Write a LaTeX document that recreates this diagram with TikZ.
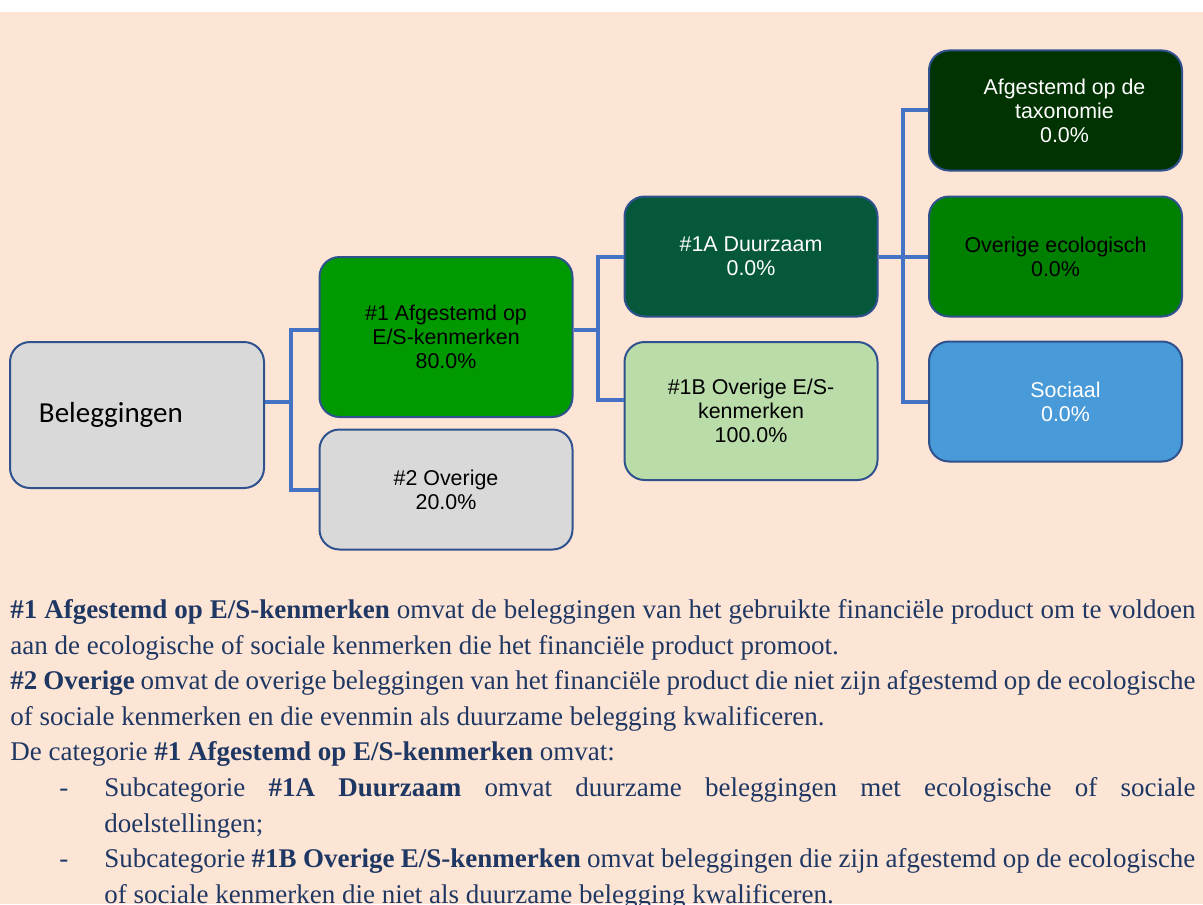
\documentclass[tikz,border=0pt]{standalone}
\usepackage{fontspec}
\setmainfont{Liberation Serif}
\newfontfamily\boxfont{Liberation Sans}
\newfontfamily\calfont{Carlito}

\begin{document}
\begin{tikzpicture}[x=0.5pt,y=-0.5pt,
	box/.style={draw=boxline,line width=1pt,rounded corners=10pt,minimum width=126.5pt,minimum height=60pt,inner sep=0pt,align=center,font=\boxfont\fontsize{10.7pt}{12pt}\selectfont},
	link/.style={linkblue,line width=2pt}]

\definecolor{peach}{RGB}{253,229,214}
\definecolor{boxline}{RGB}{47,82,143}
\definecolor{linkblue}{RGB}{68,114,196}
\definecolor{grey}{RGB}{217,217,217}
\definecolor{afggreen}{RGB}{0,154,0}
\definecolor{duugreen}{RGB}{5,89,58}
\definecolor{lightgreen}{RGB}{185,220,169}
\definecolor{taxgreen}{RGB}{0,51,0}
\definecolor{ecogreen}{RGB}{0,128,0}
\definecolor{socblue}{RGB}{72,154,217}
\definecolor{navy}{RGB}{31,55,99}

\useasboundingbox (0,0) rectangle (1203,904);
\fill[white] (0,0) rectangle (1203,904);
\fill[peach] (0,12.5) rectangle (1203,904);

% boxes
\node[box,fill=grey,text width=98pt,inner xsep=14.5pt,align=left,minimum height=73pt,font=\calfont\fontsize{14.5pt}{17pt}\selectfont] (bel) at (137,415) {Beleggingen};
\node[box,fill=afggreen,minimum height=80pt] (afg) at (446,337) {\#1 Afgestemd op\\E/S-kenmerken\\80.0\%};
\node[box,fill=grey] (ovr) at (446,489.5) {\#2 Overige\\20.0\%};
\node[box,fill=duugreen,text=white] (duu) at (751,256.5) {\#1A Duurzaam\\0.0\%};
\node[box,fill=lightgreen,minimum height=69pt] (ob) at (751,411) {\#1B Overige E/S-\\kenmerken\\100.0\%};
\node[box,fill=taxgreen,text=white] (tax) at (1055.5,110.5) {\hspace*{9pt}Afgestemd op de\\\hspace*{9pt}taxonomie\\\hspace*{9pt}0.0\%};
\node[box,fill=ecogreen] (eco) at (1055.5,256.5) {Overige ecologisch\\0.0\%};
\node[box,fill=socblue,text=white] (soc) at (1055.5,401.5) {\hspace*{10pt}Sociaal\\\hspace*{10pt}0.0\%};

% connectors
\coordinate (k1) at (291,402);
\coordinate (k2) at (598,330);
\coordinate (k3) at (903,256.5);
\draw[link] (bel.east |- k1) -- (k1);
\draw[link] (afg.west |- k2) -| (k1) |- (ovr.west);
\draw[link] (afg.east |- k2) -- (k2);
\draw[link] (duu.west) -| (k2) |- (ob.west |- 0,400);
\draw[link] (duu.east) -- (eco.west);
\draw[link] (tax.west) -| (k3) |- (soc.west);

% explanation
\node[anchor=north west,inner sep=0pt,text width=592.5pt,align=justify,text=navy,font=\fontsize{13.5pt}{17.8pt}\selectfont] (txt) at (10,599) {\parindent=0pt\hyphenpenalty=10000
\textbf{\#1 Afgestemd op E/S-kenmerken} omvat de beleggingen van het gebruikte financiële product om te voldoen\linebreak aan de ecologische of sociale kenmerken die het financiële product promoot.\par
\textbf{\#2 Overige} omvat de overige beleggingen van het financiële product die niet zijn afgestemd op de ecologische\linebreak of sociale kenmerken en die evenmin als duurzame belegging kwalificeren.\par
De categorie \textbf{\#1 Afgestemd op E/S-kenmerken} omvat:\par
\leftskip=47pt\noindent\llap{\makebox[22.5pt][l]{-}}Subcategorie \textbf{\#1A Duurzaam} omvat duurzame beleggingen met ecologische of sociale\linebreak doelstellingen;\par
\leftskip=47pt\noindent\llap{\makebox[22.5pt][l]{-}}Subcategorie \textbf{\#1B Overige E/S-kenmerken} omvat beleggingen die zijn afgestemd op de ecologische\linebreak of sociale kenmerken die niet als duurzame belegging kwalificeren.\par};
\end{tikzpicture}
\end{document}
